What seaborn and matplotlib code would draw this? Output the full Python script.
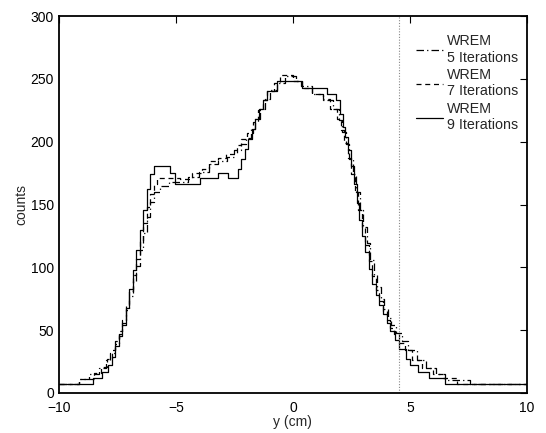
import matplotlib
matplotlib.use("Agg")
import matplotlib.pyplot as plt
import seaborn as sns
import pandas as pd

# ---- data (step-post breakpoints) ----
x_it5 = [-10, -9.13, -8.7, -8.3, -8.0, -7.8, -7.6, -7.45, -7.3, -7.15, -7.0, -6.85,
         -6.7, -6.55, -6.4, -6.25, -6.1, -5.95, -5.7, -5.3, -4.5, -4.0, -3.6, -3.2,
         -2.8, -2.5, -2.2, -2.0, -1.8, -1.6, -1.4, -1.2, -1.0, -0.7, -0.35, 0.15,
         0.35, 0.8, 1.3, 1.7, 1.95, 2.1, 2.25, 2.4, 2.55, 2.7, 2.85, 3.0, 3.15, 3.3,
         3.45, 3.6, 3.75, 3.9, 4.05, 4.2, 4.4, 4.65, 4.9, 5.3, 5.7, 6.1, 6.5, 7.56, 10]
y_it5 = [7, 11, 15, 20, 26, 32, 39, 47, 56, 66, 77, 89,
         101, 114, 127, 140, 152, 160, 165, 168, 172, 176, 182, 185,
         188, 193, 198, 203, 210, 218, 226, 234, 241, 247, 252, 248,
         244, 238, 233, 226, 217, 208, 198, 186, 174, 160, 146, 132, 119, 106,
         94, 84, 75, 67, 60, 54, 48, 41, 34, 26, 20, 15, 10, 7, 7]

x_it7 = [-10, -9.13, -8.5, -8.2, -7.95, -7.75, -7.6, -7.45, -7.3, -7.15, -7.0, -6.85,
         -6.7, -6.55, -6.4, -6.25, -6.1, -5.95, -5.8, -4.83, -4.3, -3.9, -3.6, -3.2,
         -2.84, -2.4, -2.2, -1.98, -1.7, -1.5, -1.3, -1.1, -0.8, -0.55, 0.0, 0.4,
         0.8, 1.3, 1.6, 1.9, 2.05, 2.2, 2.35, 2.5, 2.65, 2.8, 2.95, 3.1, 3.25, 3.4,
         3.55, 3.7, 3.85, 4.0, 4.15, 4.3, 4.55, 4.8, 5.1, 5.5, 6.0, 6.4, 7.0, 10]
y_it7 = [7, 11, 16, 21, 27, 34, 41, 49, 58, 69, 81, 94,
         107, 121, 135, 148, 158, 166, 171, 170, 175, 178, 185, 187,
         190, 197, 202, 207, 216, 225, 233, 240, 247, 253, 248, 243,
         238, 234, 226, 218, 209, 199, 187, 174, 160, 146, 132, 118, 105, 93,
         82, 73, 65, 58, 52, 47, 40, 34, 26, 20, 15, 12, 7, 7]

x_it9 = [-10, -8.56, -8.18, -7.92, -7.75, -7.6, -7.45, -7.3, -7.15, -7.0, -6.85, -6.7,
         -6.55, -6.4, -6.25, -6.1, -5.95, -5.26, -5.04, -3.97, -3.22, -2.78, -2.35,
         -2.2, -2.05, -1.9, -1.75, -1.6, -1.45, -1.3, -1.1, -0.7, 0.37, 1.45, 1.84,
         2.0, 2.12, 2.24, 2.36, 2.48, 2.6, 2.72, 2.84, 2.96, 3.1, 3.25, 3.4, 3.55,
         3.7, 3.85, 4.0, 4.15, 4.35, 4.55, 4.83, 5.0, 5.36, 5.8, 6.52, 10]
y_it9 = [7, 12, 17, 22, 29, 37, 45, 54, 68, 83, 98, 114,
         130, 146, 162, 174, 181, 175, 166, 171, 175, 171, 178,
         186, 194, 202, 210, 218, 226, 233, 240, 248, 243, 238, 233,
         222, 212, 204, 193, 181, 166, 151, 138, 125, 112, 99, 87, 78,
         70, 63, 56, 49, 42, 35, 27, 22, 17, 12, 7, 7]

labels = ["WREM\n5 Iterations", "WREM\n7 Iterations", "WREM\n9 Iterations"]
marker_x = 4.55

# ---- plotting ----
sns.set_style("white")
plt.rcParams["font.family"] = ["Liberation Sans", "DejaVu Sans"]

fig = plt.figure(figsize=(5.46, 4.33), dpi=100)
ax = fig.add_axes([0.108, 0.0924, 0.857, 0.8706])

series = [(x_it5, y_it5, (0, (6, 2.5, 1, 2.5))),
          (x_it7, y_it7, (0, (4, 3))),
          (x_it9, y_it9, "-")]
for (xs, ys, ls), lab in zip(series, labels):
    df = pd.DataFrame({"y": xs, "counts": ys})
    sns.lineplot(data=df, x="y", y="counts", ax=ax, estimator=None, sort=False,
                 drawstyle="steps-post", color="black", linewidth=0.9,
                 linestyle=ls, label=lab)

ax.axvline(marker_x, color="#888888", linestyle=(0, (1, 1.5)), linewidth=0.8)

ax.set_xlim(-10, 10)
ax.set_ylim(0, 300)
ax.set_xticks([-10, -5, 0, 5, 10])
ax.set_xticklabels(["\u221210", "\u22125", "0", "5", "10"])
ax.set_yticks([0, 50, 100, 150, 200, 250, 300])
ax.set_xlabel("y (cm)", fontsize=10, labelpad=0)
ax.set_ylabel("counts", fontsize=10, labelpad=1.5)
ax.tick_params(direction="in", length=5, width=0.8, top=True, right=True,
               labelsize=10, colors="black")
ax.tick_params(axis="x", pad=6)
ax.tick_params(axis="y", pad=3.5)
for s in ax.spines.values():
    s.set_visible(True)
    s.set_color("black")
    s.set_linewidth(1.3)

leg = ax.legend(loc="upper left", bbox_to_anchor=(0.763, 0.951), frameon=False,
                fontsize=10.3, handlelength=1.9, handletextpad=0.25,
                labelspacing=0.25, borderaxespad=0, borderpad=0)

fig.savefig("out.png", dpi=100)
